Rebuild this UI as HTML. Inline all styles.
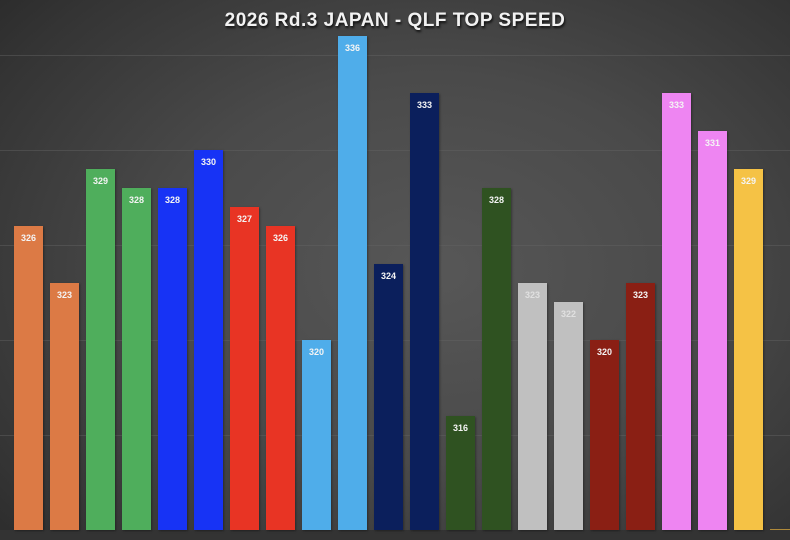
<!DOCTYPE html>
<html><head><meta charset="utf-8"><style>
html,body{margin:0;padding:0}
body{width:790px;height:540px;overflow:hidden;position:relative;font-family:"Liberation Sans",sans-serif;
background:radial-gradient(ellipse 75% 80% at 55% 50%,#575757 0%,#4a4a4a 45%,#343434 85%,#2a2a2a 100%);}
.t{position:absolute;top:10px;left:0;width:790px;text-align:center;font-weight:bold;font-size:19px;color:#f2f2f2;letter-spacing:0.5px;text-shadow:1px 2px 2px #111}
.g{position:absolute;left:0;width:790px;height:1px;background:rgba(100,100,100,0.45)}
.b{position:absolute;width:29px;box-shadow:1px 1px 2px rgba(0,0,0,0.35)}
.b span{position:absolute;top:7px;left:0;width:100%;text-align:center;font-size:9px;font-weight:bold;color:#f4f4f4}
.base{position:absolute;left:0;top:530px;width:790px;height:10px;background:#333}
</style></head><body>
<div class="g" style="top:55px"></div>
<div class="g" style="top:150px"></div>
<div class="g" style="top:245px"></div>
<div class="g" style="top:340px"></div>
<div class="g" style="top:435px"></div>
<div class="base"></div>
<div class="t">2026 Rd.3 JAPAN - QLF TOP SPEED</div>
<div class="b" style="left:14px;top:226px;height:304px;background:#dc7a45"><span>326</span></div>
<div class="b" style="left:50px;top:283px;height:247px;background:#dc7a45"><span>323</span></div>
<div class="b" style="left:86px;top:169px;height:361px;background:#4fae5c"><span>329</span></div>
<div class="b" style="left:122px;top:188px;height:342px;background:#4fae5c"><span>328</span></div>
<div class="b" style="left:158px;top:188px;height:342px;background:#1733f5"><span>328</span></div>
<div class="b" style="left:194px;top:150px;height:380px;background:#1733f5"><span>330</span></div>
<div class="b" style="left:230px;top:207px;height:323px;background:#e83424"><span>327</span></div>
<div class="b" style="left:266px;top:226px;height:304px;background:#e83424"><span>326</span></div>
<div class="b" style="left:302px;top:340px;height:190px;background:#4fadea"><span>320</span></div>
<div class="b" style="left:338px;top:36px;height:494px;background:#4fadea"><span>336</span></div>
<div class="b" style="left:374px;top:264px;height:266px;background:#0b1f5c"><span>324</span></div>
<div class="b" style="left:410px;top:93px;height:437px;background:#0b1f5c"><span>333</span></div>
<div class="b" style="left:446px;top:416px;height:114px;background:#2f5221"><span>316</span></div>
<div class="b" style="left:482px;top:188px;height:342px;background:#2f5221"><span>328</span></div>
<div class="b" style="left:518px;top:283px;height:247px;background:#c0c0c0"><span style="color:#e0e0e0">323</span></div>
<div class="b" style="left:554px;top:302px;height:228px;background:#c0c0c0"><span style="color:#e0e0e0">322</span></div>
<div class="b" style="left:590px;top:340px;height:190px;background:#8a1f14"><span>320</span></div>
<div class="b" style="left:626px;top:283px;height:247px;background:#8a1f14"><span>323</span></div>
<div class="b" style="left:662px;top:93px;height:437px;background:#ee85f2"><span>333</span></div>
<div class="b" style="left:698px;top:131px;height:399px;background:#ee85f2"><span>331</span></div>
<div class="b" style="left:734px;top:169px;height:361px;background:#f5c245"><span>329</span></div>
<div style="position:absolute;left:770px;top:529px;width:20px;height:1px;background:#b08a3a"></div>
</body></html>
